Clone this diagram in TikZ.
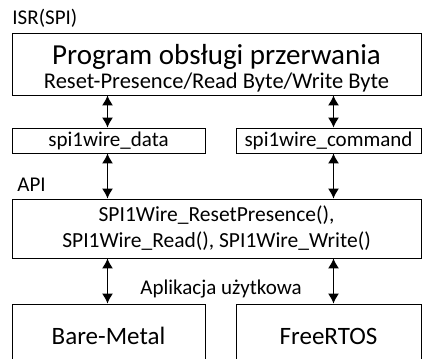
\documentclass[tikz,border=0pt]{standalone}
\usepackage{fontspec}
\setmainfont{Carlito}
\usepackage{tikz}
\usetikzlibrary{arrows.meta,positioning}

\begin{document}
\begin{tikzpicture}[x=1pt, y=1pt, line width=0.9pt,
  box/.style = {draw, rectangle, inner sep=0pt, align=center},
  lbl/.style = {inner sep=0pt, anchor=base west, font=\fontsize{21}{24}\selectfont},
  biarrow/.style = {<->, line width=1.2pt, >={Latex[length=10pt,width=11pt]}}]
\path[use as bounding box] (0,0) rectangle (422,358);
\clip (0,0) rectangle (422,358);
% ISR layer
\node[lbl] (isrlbl) at (12,333) {ISR(SPI)};
\node[box, minimum width=409pt, minimum height=62pt, font=\fontsize{22.5}{20}\selectfont] (isr) at (216.5,294)
  {{\fontsize{29}{30}\selectfont\rule{0pt}{29pt}Program obsługi przerwania}\\[2.5pt] Reset-Presence/Read Byte/Write Byte};
\node[box, minimum width=193pt, minimum height=25pt, font=\fontsize{21}{24}\selectfont] (data) at (108.5,217.5) {spi1wire\_data};
\node[box, minimum width=185pt, minimum height=25pt, font=\fontsize{21}{24}\selectfont] (cmd) at (328.5,217.5) {spi1wire\_command};
% API layer
\node[lbl] (apilbl) at (17,166) {API};
\node[box, minimum width=409pt, minimum height=59pt, font=\fontsize{21.5}{26}\selectfont] (api) at (216.5,129.5)
  {SPI1Wire\_ResetPresence(),\\ SPI1Wire\_Read(), SPI1Wire\_Write()};
% application layer
\node[lbl, anchor=base] (applbl) at (221,63) {Aplikacja użytkowa};
\node[box, minimum width=193pt, minimum height=64pt, font=\fontsize{25}{28}\selectfont] (bare) at (108.5,22) {Bare-Metal};
\node[box, minimum width=185pt, minimum height=64pt, font=\fontsize{25}{28}\selectfont] (rtos) at (328.5,22) {FreeRTOS};
% connections
\draw[biarrow] ([xshift=-1pt]data.north) -- ([xshift=-1pt]data.north |- isr.south);
\draw[biarrow] ([xshift=5pt]cmd.north) -- ([xshift=5pt]cmd.north |- isr.south);
\draw[biarrow] ([xshift=-1pt]data.south) -- ([xshift=-1pt]data.south |- api.north);
\draw[biarrow] ([xshift=5pt]cmd.south) -- ([xshift=5pt]cmd.south |- api.north);
\draw[biarrow] ([xshift=-1pt]bare.north) -- ([xshift=-1pt]bare.north |- api.south);
\draw[biarrow] ([xshift=5pt]rtos.north) -- ([xshift=5pt]rtos.north |- api.south);
\end{tikzpicture}
\end{document}
